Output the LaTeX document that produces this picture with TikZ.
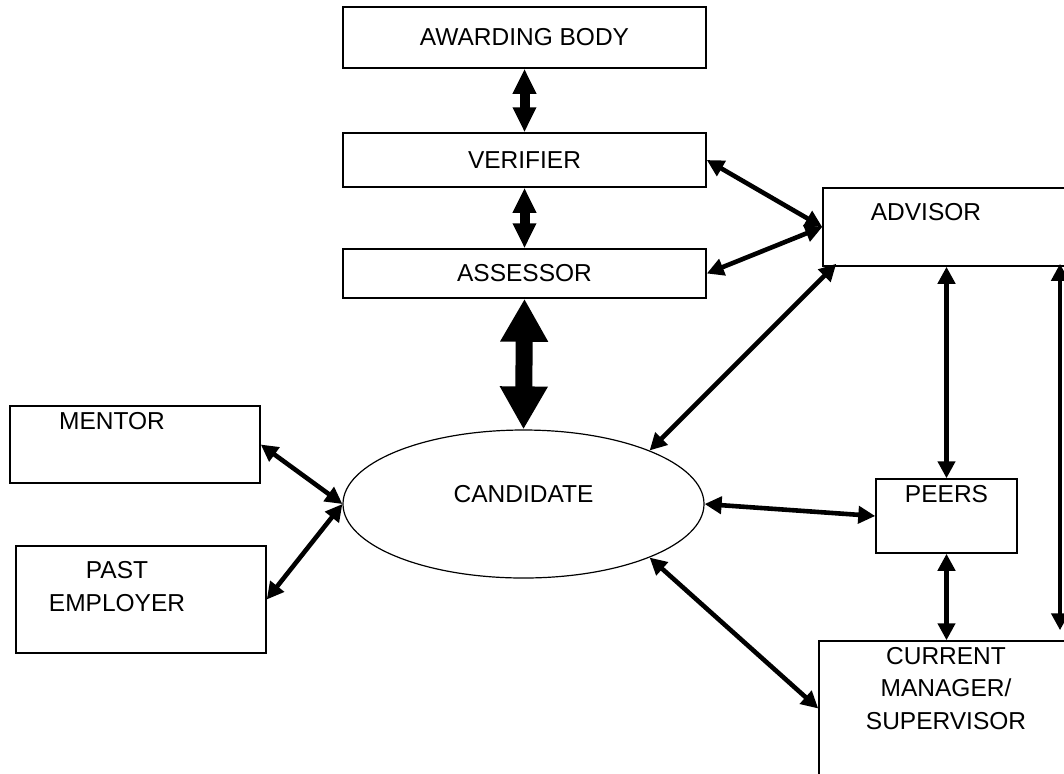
\documentclass[tikz,border=0pt]{standalone}
\usepackage{fontspec}
\setmainfont{Liberation Sans}
\usetikzlibrary{arrows.meta,shapes.geometric}
\begin{document}
\begin{tikzpicture}[x=0.5pt,y=-0.5pt,
  box/.style={draw,line width=0.75pt,inner sep=0pt},
  lbl/.style={font=\fontsize{12.25}{16.3}\selectfont,inner sep=0pt,align=center},
  thinarrow/.style={line width=2.3pt,{Triangle[width=8.5pt,length=8.5pt]}-{Triangle[width=8.5pt,length=8.5pt]}},
  midarrow/.style={line width=5pt,{Triangle[width=11pt,length=12.5pt]}-{Triangle[width=11pt,length=12.5pt]}},
  bigarrow/.style={line width=8.5pt,{Triangle[width=22.5pt,length=21.5pt]}-{Triangle[width=22.5pt,length=21.5pt]}}]
\useasboundingbox (0,0) rectangle (1064,773);
\clip (0,0) rectangle (1064,773);
\fill[white] (0,0) rectangle (1064,773);

% boxes
\node[box,lbl,minimum width=181.5pt,minimum height=30.5pt] (award) at (524.5,37.5) {AWARDING BODY};
\node[box,lbl,minimum width=181.5pt,minimum height=27pt] (verifier) at (524.5,160) {VERIFIER};
\node[box,lbl,minimum width=181.5pt,minimum height=24.5pt] (assessor) at (524.5,273.5) {ASSESSOR};
\node[box,minimum width=126pt,minimum height=39pt] (advisor) at (949,227) {};
\node[box,minimum width=125pt,minimum height=38.5pt] (mentor) at (135,444.5) {};
\node[box,minimum width=125pt,minimum height=53.5pt] (pastemp) at (141,599.5) {};
\node[draw,ellipse,line width=0.6pt,inner sep=0pt,minimum width=180.5pt,minimum height=74pt] (cand) at (523.5,504) {};
\node[box,minimum width=70.5pt,minimum height=37pt] (peers) at (946.5,516) {};
\node[box,minimum width=128pt,minimum height=67.5pt] (mgr) at (947,708.5) {};

% texts
\node[lbl] (advisortxt) at (926,212) {ADVISOR};
\node[lbl] (mentortxt) at (112,421) {MENTOR};
\node[lbl] (pastemptxt) at (117,586.5) {PAST\\EMPLOYER};
\node[lbl] (candtxt) at (523.5,494) {CANDIDATE};
\node[lbl] (peerstxt) at (946.5,494) {PEERS};
\node[lbl] (mgrtxt) at (946,688.5) {CURRENT\\MANAGER/\\SUPERVISOR};

% connectors
\draw[midarrow] (award.south) -- (verifier.north);
\draw[midarrow] (verifier.south) -- (assessor.north);
\draw[bigarrow] (assessor.south) -- (cand.north);
\draw[thinarrow] (verifier.east) -- (advisor.west);
\draw[thinarrow] (assessor.east) -- (advisor.west);
\draw[thinarrow] ([xshift=7pt,yshift=1.5pt]advisor.south west) -- (cand.23);
\draw[thinarrow] (mentor.east) -- (cand.west);
\draw[thinarrow] (pastemp.east) -- (cand.west);
\draw[thinarrow] (cand.east) -- (peers.west);
\draw[thinarrow] (cand.-23) -- (mgr.west);
\draw[thinarrow] (peers.north |- advisor.south) -- (peers.north);
\draw[thinarrow] (peers.south) -- (peers.south |- mgr.north);
\coordinate (rx) at (1060,0);
\draw[thinarrow,shorten >=5pt,shorten <=-1.5pt] (rx |- advisor.south) -- (rx |- mgr.north);
\end{tikzpicture}
\end{document}
